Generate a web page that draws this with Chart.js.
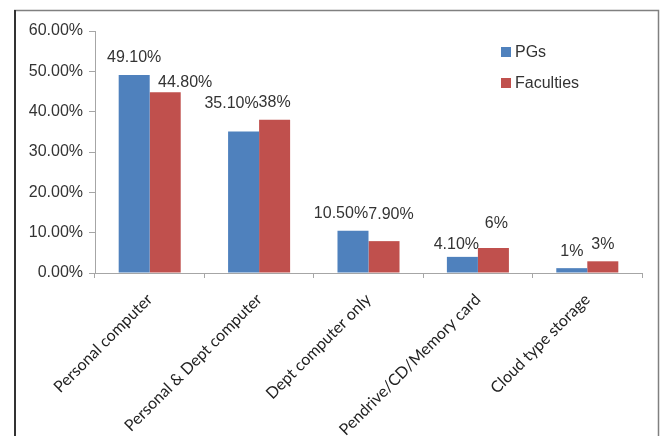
<!DOCTYPE html>
<html>
<head>
<meta charset="utf-8">
<script src="https://cdn.jsdelivr.net/npm/chart.js@4"></script>
<style>
  html, body { margin: 0; padding: 0; background: #fff; }
  #wrap { width: 660px; height: 436px; position: relative; }
</style>
</head>
<body>
<div id="wrap"><canvas id="storageChart" width="660" height="436"></canvas></div>
<script>
const categories = ['Personal computer', 'Personal & Dept computer', 'Dept computer only', 'Pendrive/CD/Memory card', 'Cloud type storage'];
const pgValues = [49.1, 35.1, 10.5, 4.0, 1.2];
const facultyValues = [44.8, 38, 7.9, 6.2, 2.9];
const pgLabels = ['49.10%', '35.10%', '10.50%', '4.10%', '1%'];
const facultyLabels = ['44.80%', '38%', '7.90%', '6%', '3%'];
const yTicks = [0, 10, 20, 30, 40, 50, 60];

// label nudges (dx, dy from bar top), placed by hand in the original
const pgShift = [[0, -17], [-12, -28], [-12, -17], [-6, -12], [0, -17]];
const facultyShift = [[20, -10], [0, -17], [7, -27], [3, -24], [0, -17]];

const frame = {
    id: 'frame',
    beforeDraw(chart) {
        const c = chart.ctx;
        c.save();
        c.fillStyle = '#fff';
        c.fillRect(0, 0, chart.width, chart.height);
        c.strokeStyle = '#808080';
        c.lineWidth = 1.5;
        c.beginPath();
        c.moveTo(14, 10.5);
        c.lineTo(658.5, 10.5);
        c.lineTo(658.5, 436);
        c.stroke();
        c.strokeStyle = '#333';
        c.lineWidth = 2;
        c.beginPath();
        c.moveTo(15, 10);
        c.lineTo(15, 436);
        c.stroke();
        c.restore();
    }
};

const valueLabels = {
    id: 'valueLabels',
    afterDatasetsDraw(chart) {
        const c = chart.ctx;
        const texts = [pgLabels, facultyLabels];
        const shifts = [pgShift, facultyShift];
        c.save();
        c.font = '16px "Liberation Sans", Arial, sans-serif';
        c.fillStyle = '#333';
        c.textAlign = 'center';
        c.textBaseline = 'middle';
        chart.data.datasets.forEach((ds, i) => {
            chart.getDatasetMeta(i).data.forEach((bar, j) => {
                const s = shifts[i][j];
                c.fillText(texts[i][j], bar.x + s[0], bar.y + s[1]);
            });
        });
        c.restore();
    }
};

const boxLegend = {
    id: 'boxLegend',
    afterDraw(chart) {
        const c = chart.ctx;
        c.save();
        c.font = '16px "Liberation Sans", Arial, sans-serif';
        c.textBaseline = 'middle';
        chart.data.datasets.forEach((ds, i) => {
            const y = 47 + i * 31;
            c.fillStyle = ds.backgroundColor;
            c.fillRect(501, y, 10, 10);
            c.fillStyle = '#333';
            c.fillText(ds.label, 515, y + 5.5);
        });
        c.restore();
    }
};

const ctx = document.getElementById('storageChart').getContext('2d');
new Chart(ctx, {
    type: 'bar',
    data: {
        labels: categories,
        datasets: [{
            label: 'PGs',
            data: pgValues,
            backgroundColor: '#4F81BD',
            categoryPercentage: 0.567,
            barPercentage: 1
        }, {
            label: 'Faculties',
            data: facultyValues,
            backgroundColor: '#C0504D',
            categoryPercentage: 0.567,
            barPercentage: 1
        }]
    },
    options: {
        responsive: false,
        animation: false,
        layout: { padding: { left: 0, top: 31, right: 18, bottom: 0 } },
        plugins: {
            legend: { display: false },
            tooltip: { enabled: false }
        },
        scales: {
            x: {
                afterFit: (scale) => { scale.height = 163; },
                grid: { drawOnChartArea: false, tickLength: 5, color: '#a6a6a6' },
                border: { color: '#a6a6a6' },
                ticks: {
                    minRotation: 45,
                    maxRotation: 45,
                    autoSkip: false,
                    padding: 12,
                    color: '#222',
                    font: { family: 'Lato', size: 16 }
                }
            },
            y: {
                min: 0,
                max: 60,
                afterFit: (scale) => { scale.width = 95; },
                afterBuildTicks: (scale) => { scale.ticks = yTicks.map(v => ({ value: v })); },
                grid: { drawOnChartArea: false, tickLength: 6, color: '#a6a6a6' },
                border: { color: '#a6a6a6' },
                ticks: {
                    padding: 6,
                    color: '#333',
                    font: { family: '"Liberation Sans", Arial', size: 16 },
                    callback: (v) => v.toFixed(2) + '%'
                }
            }
        }
    },
    plugins: [frame, valueLabels, boxLegend]
});
</script>
</body>
</html>
